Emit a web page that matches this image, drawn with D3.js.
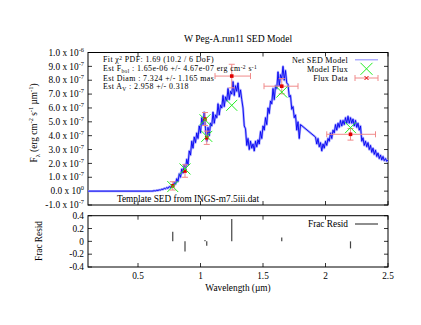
<!DOCTYPE html>
<html><head><meta charset="utf-8">
<script src="https://cdn.jsdelivr.net/npm/d3@7"></script>
<style>body{margin:0;background:#fff}svg{display:block;font-family:"Liberation Serif","DejaVu Serif",serif}</style>
</head><body><svg width="421" height="325"></svg>
<script>
// Spectrum: [wavelength (µm), F_lambda (1e-7 erg cm^-2 s^-1 µm^-1)]
const spectrum = [
[0.10,0],[0.60,0],[0.61,0],[0.62,0.01],[0.63,0.03],[0.64,0.02],[0.65,0.06],[0.66,0.05],[0.67,0.09],[0.68,0.08],[0.69,0.14],
[0.70,0.12],[0.71,0.2],[0.72,0.17],[0.73,0.26],[0.74,0.2],[0.75,0.33],[0.76,0.25],[0.77,0.42],[0.78,0.35],[0.79,0.62],
[0.80,0.5],[0.81,0.9],[0.82,0.7],[0.83,1.25],[0.84,1.0],[0.85,1.6],[0.86,1.3],[0.87,1.9],[0.88,1.55],[0.89,2.3],
[0.90,1.9],[0.91,2.9],[0.92,2.6],[0.93,3.6],[0.94,3.1],[0.95,3.9],[0.96,3.5],[0.97,4.2],[0.98,3.8],[0.99,4.7],
[1.00,4.2],[1.01,5.3],[1.02,4.8],[1.03,5.7],[1.04,4.5],[1.05,3.6],[1.06,4.6],[1.07,4.0],[1.08,4.9],[1.09,4.7],
[1.10,5.7],[1.11,4.9],[1.12,5.5],[1.13,5.3],[1.14,6.3],[1.15,5.5],[1.16,6.2],[1.17,6.0],[1.18,6.9],[1.19,6.1],
[1.20,6.8],[1.21,6.5],[1.22,7.4],[1.23,6.6],[1.24,7.2],[1.25,7.0],[1.26,7.9],[1.27,6.9],[1.28,7.6],[1.29,7.2],
[1.30,7.8],[1.31,6.8],[1.32,7.3],[1.33,6.6],[1.34,6.0],[1.35,4.7],[1.36,4.5],[1.37,3.3],[1.38,3.8],[1.39,3.0],
[1.40,3.6],[1.41,3.1],[1.42,3.4],[1.43,2.9],[1.44,3.6],[1.45,3.2],[1.46,3.7],[1.47,3.4],[1.48,4.3],[1.49,3.8],
[1.50,4.7],[1.51,4.4],[1.52,5.3],[1.53,4.8],[1.54,6.0],[1.55,5.6],[1.56,6.5],[1.57,6.3],[1.58,7.4],[1.59,6.6],
[1.60,7.6],[1.61,7.4],[1.62,8.6],[1.63,7.6],[1.64,8.4],[1.65,8.1],[1.66,9.0],[1.67,8.0],[1.68,8.7],[1.69,7.8],
[1.70,7.7],[1.71,6.8],[1.72,6.9],[1.73,5.9],[1.74,6.1],[1.75,5.3],[1.76,5.5],[1.77,4.4],[1.78,5.0],[1.79,3.8],
[1.80,4.8],
[1.92,3.9],[1.93,3.4],[1.94,3.8],[1.95,3.2],[1.96,3.5],[1.97,2.9],[1.98,3.4],[1.99,3.1],
[2.00,3.6],[2.01,3.3],[2.02,3.8],[2.03,3.6],[2.04,4.2],[2.05,3.8],[2.06,4.4],[2.07,4.2],[2.08,4.8],[2.09,4.4],
[2.10,4.9],[2.11,4.6],[2.12,5.1],[2.13,4.7],[2.14,5.1],[2.15,4.8],[2.16,5.3],[2.17,4.9],[2.18,5.4],[2.19,4.9],
[2.20,5.3],[2.21,4.9],[2.22,5.2],[2.23,4.7],[2.24,5.1],[2.25,4.6],[2.26,4.9],[2.27,4.4],[2.28,4.7],[2.29,3.6],
[2.30,3.85],[2.31,3.3],[2.32,3.6],[2.33,3.2],[2.34,3.5],[2.35,3.0],[2.36,3.3],[2.37,2.8],[2.38,3.1],[2.39,2.65],
[2.40,2.95],[2.41,2.5],[2.42,2.75],[2.43,2.35],[2.44,2.6],[2.45,2.25],[2.46,2.5],[2.47,2.2],[2.48,2.35],[2.49,2.15],
[2.50,2.25]
];
const dataWave   = [0.778, 0.876, 1.036, 1.05, 1.25, 1.65, 2.2];
const dataFlux   = [0.38, 1.45, 5.2, 3.85, 8.3, 7.57, 4.1];
const dataErr    = [0.3, 0.45, 0.47, 0.48, 0.85, 0.55, 0.42];
const dataWaveLo = [0.778, 0.876, 1.036, 1.05, 1.116, 1.508, 2.01];
const dataWaveHi = [0.778, 0.876, 1.036, 1.05, 1.40, 1.78, 2.40];
const modelFlux  = [0.33, 1.6, 5.15, 3.95, 6.19, 7.14, 4.58];
const fracResid  = [0.15, -0.16, 0.02, -0.07, 0.35, 0.06, -0.11];

const xTicks = [0.5, 1, 1.5, 2, 2.5];
const xTickLabels = ["0.5", "1", "1.5", "2", "2.5"];
const yTicks = [-1,0,1,2,3,4,5,6,7,8,9,10];
const yTickMant = ["-1.0","0.0","1.0","2.0","3.0","4.0","5.0","6.0","7.0","8.0","9.0","1.0"];
const yTickExp  = ["-7","0","-7","-7","-7","-7","-7","-7","-7","-7","-7","-6"];
const rTicks = [0.4, 0.2, 0, -0.2, -0.4];
const rTickLabels = ["0.4", "0.2", "0", "-0.2", "-0.4"];

const title = "W Peg-A.run11 SED Model";
const templateNote = "Template SED from INGS-m7.5iii.dat";

const svg = d3.select("svg");
const L = 88, R = 388, T1 = 52.5, B1 = 205, T2 = 215.7, B2 = 267;
const x = d3.scaleLinear().domain([0.1, 2.5]).range([L, R]);
const y = d3.scaleLinear().domain([-1, 10]).range([B1, T1]);
const yr = d3.scaleLinear().domain([-0.4, 0.4]).range([B2, T2]);
const FS = 9.3, FA = 7.9, SUP = 6.4, SS = 5.5;

// Title
svg.append("text").attr("x", (L+R)/2).attr("y", 42).attr("text-anchor","middle")
  .attr("font-size", 9.6).text(title);

// Frames and ticks
function frame(top, bot, ys, yTickVals) {
  const g = svg.append("g");
  xTicks.forEach(v => {
    g.append("line").attr("x1", x(v)).attr("x2", x(v)).attr("y1", bot).attr("y2", bot-4).attr("stroke","#000").attr("stroke-width",0.8);
    g.append("line").attr("x1", x(v)).attr("x2", x(v)).attr("y1", top).attr("y2", top+4).attr("stroke","#000").attr("stroke-width",0.8);
  });
  yTickVals.forEach(v => {
    g.append("line").attr("x1", L).attr("x2", L+4).attr("y1", ys(v)).attr("y2", ys(v)).attr("stroke","#000").attr("stroke-width",0.8);
    g.append("line").attr("x1", R).attr("x2", R-4).attr("y1", ys(v)).attr("y2", ys(v)).attr("stroke","#000").attr("stroke-width",0.8);
  });
  g.append("rect").attr("x", L).attr("y", top).attr("width", R-L).attr("height", bot-top)
    .attr("fill","none").attr("stroke","#000").attr("stroke-width",1);
}
frame(T1, B1, y, yTicks);
frame(T2, B2, yr, rTicks);

// Y tick labels (main)
yTicks.forEach((v, i) => {
  const t = svg.append("text").attr("x", 84).attr("y", y(v)+3.2).attr("text-anchor","end").attr("font-size", FS);
  t.append("tspan").text(yTickMant[i] + " x 10");
  t.append("tspan").attr("dy", -4).attr("font-size", SUP).text(yTickExp[i]);
});
// Residual tick labels
rTicks.forEach((v, i) => {
  svg.append("text").attr("x", 84).attr("y", yr(v)+3.2).attr("text-anchor","end").attr("font-size", FS).text(rTickLabels[i]);
});
// X tick labels
xTicks.forEach((v, i) => {
  svg.append("text").attr("x", x(v)).attr("y", 279).attr("text-anchor","middle").attr("font-size", FS).text(xTickLabels[i]);
});
svg.append("text").attr("x", (L+R)/2).attr("y", 291).attr("text-anchor","middle").attr("font-size", FS).text("Wavelength (µm)");

// Y axis labels
{
  const t = svg.append("text").attr("transform", "translate(37,123) rotate(-90)").attr("text-anchor","middle").attr("font-size", FS);
  t.append("tspan").text("F");
  t.append("tspan").attr("dy", 2.5).attr("font-size", SUP).text("λ");
  t.append("tspan").attr("dy", -2.5).text(" (erg cm");
  t.append("tspan").attr("dy", -4).attr("font-size", SUP).text("-2");
  t.append("tspan").attr("dy", 4).text(" s");
  t.append("tspan").attr("dy", -4).attr("font-size", SUP).text("-1");
  t.append("tspan").attr("dy", 4).text(" µm");
  t.append("tspan").attr("dy", -4).attr("font-size", SUP).text("-1");
  t.append("tspan").attr("dy", 4).text(")");
}
svg.append("text").attr("transform", "translate(41.5,241) rotate(-90)").attr("text-anchor","middle").attr("font-size", FS).text("Frac Resid");

// Clip for main plot
svg.append("clipPath").attr("id","c1").append("rect").attr("x",L).attr("y",T1).attr("width",R-L).attr("height",B1-T1);
const main = svg.append("g").attr("clip-path","url(#c1)");

const line = d3.line().x(d => x(d[0])).y(d => y(d[1]));
main.append("path").datum(spectrum).attr("d", line).attr("fill","none")
  .attr("stroke","#a8a8ff").attr("stroke-width",2.4).attr("stroke-linejoin","round");
main.append("path").datum(spectrum).attr("d", line).attr("fill","none")
  .attr("stroke","#0000f0").attr("stroke-width",0.9);

// Data error bars
const errC = "#f08a8a";
dataWave.forEach((w, i) => {
  const cx = x(w), cy = y(dataFlux[i]);
  const y0 = y(dataFlux[i]-dataErr[i]), y1 = y(dataFlux[i]+dataErr[i]);
  main.append("line").attr("x1",cx).attr("x2",cx).attr("y1",y0).attr("y2",y1).attr("stroke",errC).attr("stroke-width",1);
  [y0,y1].forEach(yy => main.append("line").attr("x1",cx-3).attr("x2",cx+3).attr("y1",yy).attr("y2",yy).attr("stroke",errC).attr("stroke-width",1));
  if (dataWaveHi[i] > dataWaveLo[i]) {
    const x0 = x(dataWaveLo[i]), x1 = x(dataWaveHi[i]);
    main.append("line").attr("x1",x0).attr("x2",x1).attr("y1",cy).attr("y2",cy).attr("stroke",errC).attr("stroke-width",1);
    [x0,x1].forEach(xx => main.append("line").attr("x1",xx).attr("x2",xx).attr("y1",cy-3).attr("y2",cy+3).attr("stroke",errC).attr("stroke-width",1));
  }
  main.append("rect").attr("x",cx-1.8).attr("y",cy-1.8).attr("width",3.6).attr("height",3.6).attr("fill","#e00000");
});
// Model crosses
function cross(g, cx, cy, s, w) {
  g.append("path").attr("d", `M${cx-s},${cy-s}L${cx+s},${cy+s}M${cx-s},${cy+s}L${cx+s},${cy-s}`)
    .attr("stroke","#22ee22").attr("stroke-width",w).attr("fill","none");
}
dataWave.forEach((w, i) => cross(main, x(w), y(modelFlux[i]), 5.5, 1));

// Annotations
const ann = svg.append("g").attr("font-size", FA).attr("letter-spacing", 0.4);
{
  let t = ann.append("text").attr("x", 103).attr("y", 62);
  t.append("tspan").text("Fit χ");
  t.append("tspan").attr("dy",-2.5).attr("font-size",SS).text("2");
  t.append("tspan").attr("dy",2.5).text(" PDF: 1.69 (10.2 / 6 DoF)");
  t = ann.append("text").attr("x", 103).attr("y", 71.3);
  t.append("tspan").text("Est F");
  t.append("tspan").attr("dy",1.2).attr("font-size",SS).text("bol");
  t.append("tspan").attr("dy",-1.2).text(" : 1.65e-06 +/- 4.67e-07 erg cm");
  t.append("tspan").attr("dy",-2.5).attr("font-size",SS).text("-2");
  t.append("tspan").attr("dy",2.5).text(" s");
  t.append("tspan").attr("dy",-2.5).attr("font-size",SS).text("-1");
  t = ann.append("text").attr("x", 103).attr("y", 80.6);
  t.append("tspan").text("Est Diam : 7.324 +/- 1.165 mas");
  t = ann.append("text").attr("x", 103).attr("y", 89.3);
  t.append("tspan").text("Est A");
  t.append("tspan").attr("dy",1.2).attr("font-size",SS).text("V");
  t.append("tspan").attr("dy",-1.2).text(" : 2.958 +/- 0.318");
}
svg.append("text").attr("x", 188).attr("y", 201.5).attr("text-anchor","middle").attr("font-size", FS).text(templateNote);

// Legend (main)
const lg = svg.append("g").attr("font-size", 8.1).attr("letter-spacing", 0.3);
lg.append("text").attr("x",348).attr("y",62.6).attr("text-anchor","end").text("Net SED Model");
lg.append("line").attr("x1",355).attr("x2",378).attr("y1",59.8).attr("y2",59.8).attr("stroke","#9a9aff").attr("stroke-width",1.2);
lg.append("text").attr("x",348).attr("y",71.8).attr("text-anchor","end").text("Model Flux");
cross(lg, 366.5, 68.8, 6, 1);
lg.append("text").attr("x",348).attr("y",81).attr("text-anchor","end").text("Flux Data");
lg.append("line").attr("x1",355).attr("x2",378).attr("y1",78).attr("y2",78).attr("stroke",errC).attr("stroke-width",1);
[355,378].forEach(xx => lg.append("line").attr("x1",xx).attr("x2",xx).attr("y1",75).attr("y2",81).attr("stroke",errC).attr("stroke-width",1));
lg.append("path").attr("d","M364.5,76L368.5,80M364.5,80L368.5,76").attr("stroke","#e00000").attr("stroke-width",1);

// Residuals (impulses)
const rg = svg.append("g");
dataWave.forEach((w, i) => {
  rg.append("line").attr("x1", x(w)).attr("x2", x(w)).attr("y1", yr(0)).attr("y2", yr(fracResid[i]))
    .attr("stroke","#444").attr("stroke-width",1.2);
});
svg.append("text").attr("x",348).attr("y",227).attr("text-anchor","end").attr("font-size",FS).text("Frac Resid");
svg.append("line").attr("x1",355).attr("x2",378).attr("y1",224).attr("y2",224).attr("stroke","#444").attr("stroke-width",1.2);
</script></body></html>
